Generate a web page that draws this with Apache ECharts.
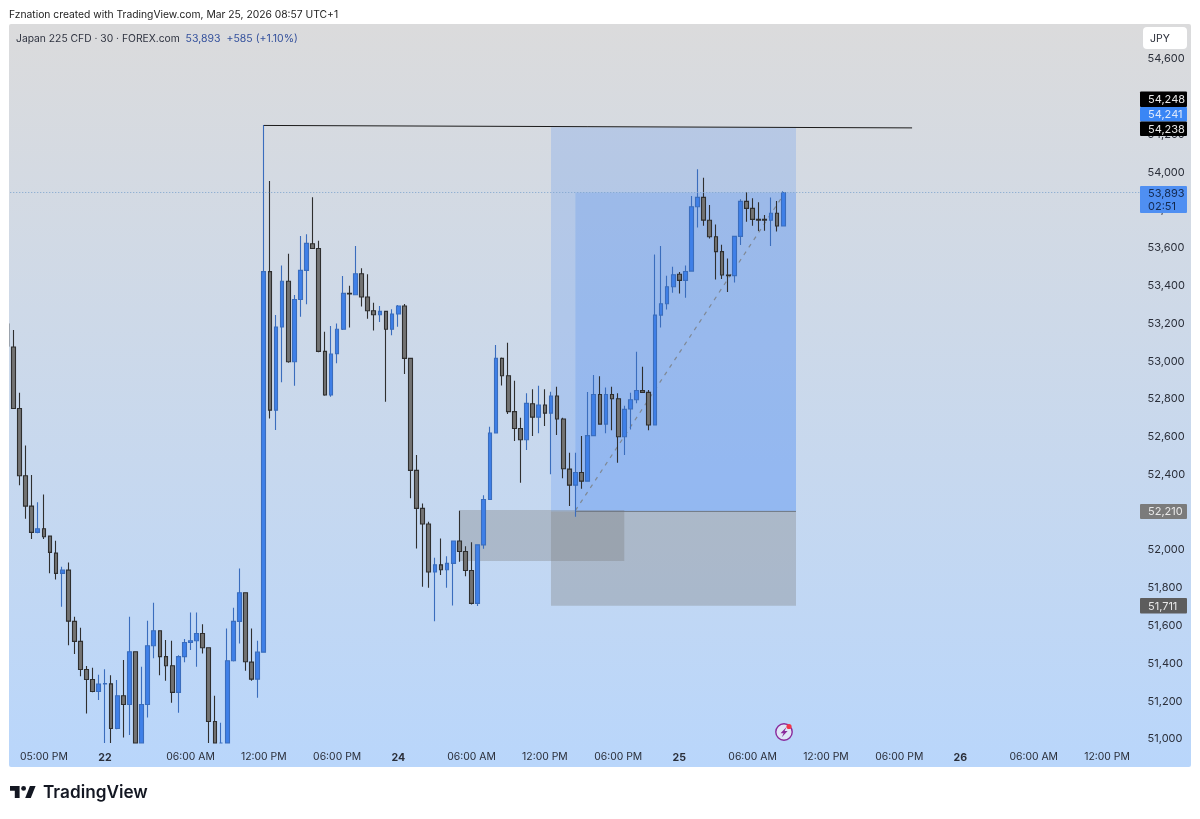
<!DOCTYPE html>
<html>
<head>
<meta charset="utf-8">
<style>html,body{margin:0;padding:0;background:#fff}#c{width:1200px;height:819px}</style>
<script src="https://cdn.jsdelivr.net/npm/echarts@6/dist/echarts.min.js"></script>
</head>
<body>
<div id="c"></div>
<script>
// [open, close, low, high] – 30 minute bars
const candles = [
[53075,52750,52750,53165],[52750,52394,52343,52833],[52394,52233,52166,52554],[52233,52094,52059,52397],
[52094,52113,52089,52254],[52113,52071,52059,52295],[52074,51988,51877,52078],[51984,51877,51845,52050],
[51877,51894,51700,51912],[51894,51624,51497,51935],[51623,51517,51450,51647],[51517,51368,51333,51589],
[51368,51315,51135,51386],[51315,51252,51248,51377],[51252,51291,51206,51340],[51292,51294,50853,51370],
[51292,51056,50853,51338],[51056,51229,51052,51312],[51229,51183,51008,51418],[51183,51462,51021,51647],
[51462,50888,50850,51462],[50888,51183,50850,51383],[51183,51494,51114,51626],[51494,51573,51427,51721],
[51573,51436,51338,51573],[51436,51388,51308,51524],[51388,51247,51192,51520],[51247,51436,51139,51444],
[51436,51511,51407,51529],[51511,51520,51471,51670],[51520,51559,51383,51670],[51559,51483,51453,51608],
[51483,51093,50853,51483],[51093,50900,50850,51229],[50871,50950,50840,51086],[50900,51414,50870,51585],
[51414,51623,51411,51695],[51623,51774,51506,51903],[51774,51409,51361,51774],[51407,51317,51308,51585],
[51317,51460,51218,51520],[51460,53474,51460,54250],[53474,52741,52697,53954],[52741,53181,52636,53244],
[53181,53423,52888,53506],[53423,52997,52992,53569],[52997,53327,52870,53350],[53327,53481,53236,53663],
[53481,53624,53301,53672],[53622,53597,53596,53868],[53597,53052,53047,53638],[53052,52821,52817,53156],
[52821,53038,52812,53186],[53040,53169,52989,53200],[53169,53359,53165,53451],[53359,53356,53179,53400],
[53352,53463,53349,53610],[53463,53340,53289,53492],[53340,53267,53225,53460],[53267,53246,53162,53310],
[53246,53264,53207,53292],[53264,53169,52786,53264],[53169,53250,53137,53275],[53250,53292,53183,53297],
[53292,53015,52932,53303],[53015,52422,52274,53015],[52422,52221,52009,52503],[52221,52138,51806,52247],
[52138,51884,51801,52150],[51884,51922,51624,51960],[51922,51896,51868,52062],[51896,51930,51801,51968],
[51930,52048,51707,52048],[52048,51993,51938,52208],[51993,51892,51862,52021],[51892,51718,51712,52042],
[51718,52028,51704,52030],[52028,52268,52007,52291],[52268,52620,52265,52653],[52620,53015,52618,53086],
[53015,52923,52872,53020],[52923,52733,52720,53098],[52733,52644,52577,52897],[52644,52584,52357,52701],
[52584,52777,52530,52830],[52775,52704,52604,52851],[52704,52768,52618,52870],[52768,52725,52657,52851],
[52725,52816,52401,52838],[52816,52694,52609,52865],[52694,52431,52381,52701],[52429,52344,52233,52516],
[52344,52411,52177,52516],[52411,52365,52325,52604],[52365,52606,52362,52837],[52606,52824,52604,52927],
[52824,52667,52665,52921],[52667,52824,52618,52861],[52824,52801,52635,52865],[52801,52600,52463,52830],
[52600,52745,52503,52764],[52747,52796,52639,52833],[52796,52845,52777,53050],[52845,52835,52833,52971],
[52835,52662,52635,52847],[52662,53244,52660,53565],[53244,53304,53179,53610],[53304,53394,53274,53453],
[53394,53458,53363,53500],[53460,53428,53359,53472],[53428,53475,53336,53506],[53477,53818,53475,53874],
[53818,53867,53708,54016],[53867,53747,53717,53971],[53746,53659,53650,53827],[53659,53580,53433,53723],
[53580,53456,53435,53617],[53456,53453,53366,53544],[53453,53661,53417,53661],[53661,53846,53615,53857],
[53846,53809,53738,53894],[53809,53751,53717,53862],[53751,53747,53689,53841],[53751,53747,53691,53774],
[53746,53783,53610,53866],[53783,53716,53686,53848],[53716,53893,53716,53900]
];
const totalBars = 185;
const timeTickBars = [5,15,29,41,53,63,75,87,99,109,121,133,145,155,167,179];
const timeTickText = ['05:00 PM','22','06:00 AM','12:00 PM','06:00 PM','24','06:00 AM','12:00 PM','06:00 PM','25','06:00 AM','12:00 PM','06:00 PM','26','06:00 AM','12:00 PM'];
const priceTicks = [51000,51200,51400,51600,51800,52000,52200,52400,52600,52800,53000,53200,53400,53600,53800,54000,54200,54400,54600];
const priceMin = 50979, priceMax = 54785;

// price tool rectangles: [first bar, last bar, top price, bottom price]
const zones = [
  [88, 128.1, 54238, 52205],
  [92, 128.1, 53893, 52205],
  [88, 128.1, 52205, 51705],
  [73, 100, 52212, 51942]
];
const zoneColors = ['rgba(59,130,246,.2)','rgba(59,130,246,.2)','rgba(120,120,120,.33)','rgba(120,120,120,.33)'];

const resistanceLine = [[41,54248],[147.1,54235]];
const lastPriceLine = [[-0.5,53893],[184.5,53893]];
const stopEdgeLine = [[92,52205],[128.1,52205]];
const trendLine = [[92,52210],[126.3,53893]];
const clippedWick = [[-0.7,53200],[-0.7,53077]];

const categories = Array.from({length: totalBars}, (_, i) => {
  const k = timeTickBars.indexOf(i);
  return k >= 0 ? timeTickText[k] : '';
});
const FONT = 'Inter, "Noto Sans", sans-serif';
// candlestick series does not clip partially visible bars, so bars are held at the bottom of the plot
const visibleCandles = candles.map(row => row.map(v => Math.max(v, priceMin)));

function overlayLine(data, color, width, type, z) {
  return {type:'line', xAxisIndex:1, yAxisIndex:0, data, symbol:'none', silent:true, clip:false, z,
    lineStyle:{color, width, type}};
}
function tag(y0, y1, fill, lines, color) {
  const els = [{type:'rect', z:100, shape:{x:1140,y:y0,width:47,height:y1-y0,r:1}, style:{fill}}];
  lines.forEach((t, i) => els.push({type:'text', z:101, style:{x:1148,y:y0 + (y1-y0)*(i+0.5)/lines.length + 0.5,text:t,fill:color,
    font:'11px '+FONT,textVerticalAlign:'middle'}}));
  return els;
}
const logo = {x:8.4, y:781.2, scaleX:0.8, scaleY:0.8, z:100, style:{fill:'#131722'}};

const chart = echarts.init(document.getElementById('c'), null, {renderer:'canvas'});
chart.setOption({
  animation:false,
  backgroundColor:'#fff',
  grid:{left:10.25, top:24, width:1130.35, height:719, containLabel:false},
  xAxis:[
    {type:'category', data:categories, boundaryGap:true, gridIndex:0,
      axisLine:{show:false}, axisTick:{show:false}, splitLine:{show:false},
      axisLabel:{interval:0, margin:9, hideOverlap:false, fontFamily:FONT, fontSize:10.4, color:'#2a2e39',
        formatter:v => /^\d\d$/.test(v) ? '{b|'+v+'}' : v,
        rich:{b:{fontWeight:700, fontFamily:FONT, fontSize:10.6, color:'#2a2e39'}}}},
    {type:'value', show:false, gridIndex:0, min:-0.5, max:184.5}
  ],
  yAxis:[{type:'value', position:'right', min:priceMin, max:priceMax, scale:true,
    axisLine:{show:false}, axisTick:{show:false}, splitLine:{show:false},
    axisLabel:{customValues:priceTicks, margin:7, padding:[5,0,0,0], fontFamily:FONT, fontSize:11, color:'#2a2e39',
      formatter:v => v.toLocaleString('en-US')}}],
  series:[
    {type:'custom', xAxisIndex:1, yAxisIndex:0, silent:true, z:1, clip:false, data:zones,
      encode:{x:[0,1], y:[2,3]},
      renderItem:(params, api) => {
        const a = api.coord([api.value(0), api.value(2)]);
        const b = api.coord([api.value(1), api.value(3)]);
        return {type:'rect', shape:{x:a[0], y:a[1], width:b[0]-a[0], height:b[1]-a[1]},
          style:{fill:zoneColors[params.dataIndex]}};
      }},
    overlayLine(stopEdgeLine, '#6f7780', 1, 'solid', 2),
    overlayLine(trendLine, '#7f8894', 1.2, [4,5], 2),
    {type:'candlestick', xAxisIndex:0, yAxisIndex:0, data:visibleCandles, barWidth:4.2, z:3, silent:true,
      itemStyle:{color:'#3f80e8', color0:'#737373', borderColor:'#3a6dbd', borderColor0:'#2f2f2f', borderColorDoji:'#3a6dbd', borderWidth:1.1}},
    overlayLine(clippedWick, '#6c7176', 1, 'solid', 3),
    overlayLine(lastPriceLine, '#7da3cc', 1, [1,2], 4),
    overlayLine(resistanceLine, '#1c1c1c', 1, 'solid', 5)
  ],
  graphic:{elements:[
    {type:'rect', z:-5, shape:{x:9,y:24,width:1182,height:743,r:2},
      style:{fill:new echarts.graphic.LinearGradient(0,0,0,1,[{offset:0,color:'#dbdbdc'},{offset:1,color:'#b9d6fb'}])}},
    {type:'text', z:100, style:{x:9,y:15,text:'Fznation created with TradingView.com, Mar 25, 2026 08:57 UTC+1',fill:'#222',font:'10.3px '+FONT,textVerticalAlign:'middle'}},
    {type:'text', z:100, style:{x:16,y:39,text:'Japan 225 CFD · 30 · FOREX.com',fill:'#2f3340',font:'10.3px '+FONT,textVerticalAlign:'middle'}},
    {type:'text', z:100, style:{x:185.5,y:39,text:'53,893',fill:'#33509c',font:'10.5px '+FONT,textVerticalAlign:'middle'}},
    {type:'text', z:100, style:{x:226.5,y:39,text:'+585 (+1.10%)',fill:'#33509c',font:'10.5px '+FONT,textVerticalAlign:'middle'}},
    {type:'rect', z:100, shape:{x:1143,y:27,width:44,height:22,r:4}, style:{fill:'#fff'}},
    {type:'text', z:101, style:{x:1160,y:38.5,text:'JPY',fill:'#2a2e39',font:'10.5px '+FONT,textAlign:'center',textVerticalAlign:'middle'}},
    ...tag(91.5,107,'#000',['54,248'],'#e8e8e8'),
    ...tag(107,121.5,'#3a86f5',['54,241'],'#dfe9fb'),
    ...tag(121.5,136,'#000',['54,238'],'#e8e8e8'),
    ...tag(186,213,'#4f8ff2',['53,893','02:51'],'#13294f'),
    ...tag(504,519,'#7b7b7b',['52,210'],'#e8e8e8'),
    ...tag(598,613.5,'#5d5d5d',['51,711'],'#e8e8e8'),
    {type:'circle', z:100, shape:{cx:784,cy:732,r:8.2}, style:{fill:'#dfe6f7',stroke:'#8a2a9c',lineWidth:1.4}},
    {type:'polygon', z:101, shape:{points:[[786.5,727],[780.5,733.2],[783.6,733.2],[781.8,737.2],[787.6,731],[784.6,731]]}, style:{fill:'#8a2a9c'}},
    {type:'circle', z:102, shape:{cx:789,cy:726.5,r:2.6}, style:{fill:'#f0364a'}},
    Object.assign({type:'polygon', shape:{points:[[14,6],[2,6],[2,12],[8,12],[8,21],[14,21]]}}, logo),
    Object.assign({type:'polygon', shape:{points:[[28,21],[21,21],[26.9,6],[34,6]]}}, logo),
    Object.assign({type:'circle', shape:{cx:19,cy:9,r:3}}, logo),
    {type:'text', z:100, style:{x:43,y:793,text:'TradingView',fill:'#131722',font:'600 17.2px '+FONT,textVerticalAlign:'middle'}}
  ]}
});
</script>
</body>
</html>
